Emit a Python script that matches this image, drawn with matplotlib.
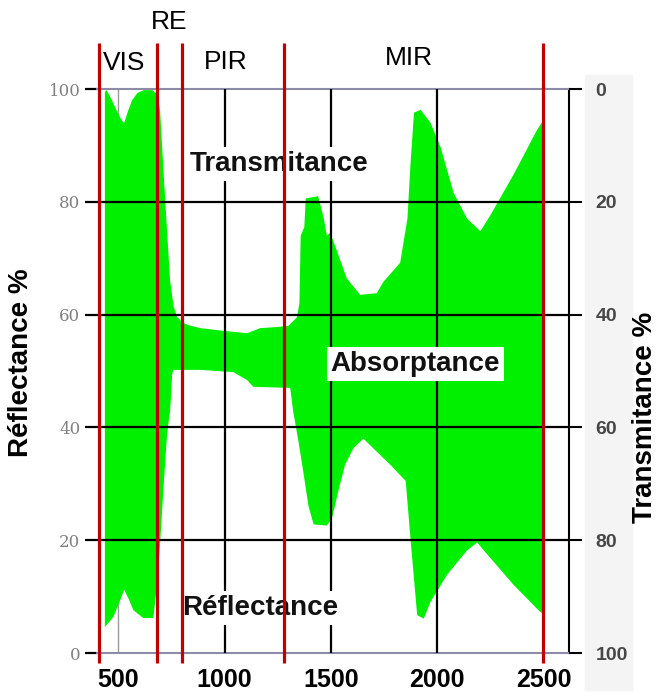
import matplotlib
matplotlib.use("Agg")
import matplotlib.pyplot as plt
import matplotlib.transforms as mtransforms
from matplotlib.patches import Rectangle

# Upper boundary of the absorbed band (100 - transmittance), in %
top_wavelength = [437, 445, 470, 495, 515, 528, 545, 565, 590, 620, 660, 685, 697,
                  712, 730, 744, 760, 777, 800, 824, 886, 1000, 1106, 1168, 1250,
                  1300, 1340, 1352, 1358, 1375, 1382, 1440, 1466, 1481, 1497, 1512,
                  1575, 1638, 1716, 1747, 1826, 1860, 1875, 1891, 1922, 1969, 2016,
                  2078, 2141, 2203, 2250, 2359, 2469, 2500]
top_value = [99.5, 99.8, 98, 96, 94.5, 94, 96, 98, 99.3, 99.8, 99.8, 99, 96,
             86, 74.5, 66, 61.5, 59.6, 58.7, 58.2, 57.6, 57.1, 56.7, 57.6, 57.8,
             58, 59.5, 62, 74, 75.5, 80.6, 81, 77.2, 74, 74.5, 73,
             66.4, 63.5, 63.8, 65.8, 69.2, 77, 87, 95.8, 96.3, 94, 89.7,
             81.5, 77, 74.8, 77.6, 84.8, 92.7, 94.5]

# Reflectance curve (lower boundary), in %
bottom_wavelength = [437, 477, 505, 528, 550, 571, 618, 665, 683, 697, 712, 730,
                     744, 754, 760, 886, 1041, 1106, 1135, 1309, 1322, 1348, 1372,
                     1395, 1419, 1481, 1505, 1536, 1567, 1606, 1653, 1716, 1779,
                     1852, 1875, 1906, 1937, 1969, 2047, 2141, 2188, 2219, 2359,
                     2484, 2500]
bottom_value = [4.6, 6.4, 9, 11.2, 9.5, 7.6, 6.2, 6.2, 12.4, 19.5, 28.9, 39,
                43, 49.6, 50.2, 50.2, 49.8, 48.4, 47.2, 47, 43, 37.4, 31.7,
                26, 22.8, 22.6, 23.8, 28.9, 33.4, 36.3, 38, 35.7, 33.4,
                30.5, 20, 6.7, 6.1, 9.1, 13.9, 18.2, 19.6, 18.2, 12.1,
                7.3, 7]

# Spectral domain limits (nm) and their names
region_bounds = [408, 680, 800, 1280, 2500]
region_names = ["VIS", "RE", "PIR", "MIR"]
region_label_x = [527, 739, 1006, 1866]
region_label_y = [1.046, 1.119, 1.048, 1.055]

x_ticks = [500, 1000, 1500, 2000, 2500]
left_ticks = [0, 20, 40, 60, 80, 100]
right_ticks = [0, 20, 40, 60, 80, 100]

GREEN = "#00f000"
RED = "#c00000"
EDGE = "#8c8ca8"

fig = plt.figure(figsize=(6.58, 6.92), dpi=100)
fig.patches.append(Rectangle((585 / 658, 1 - 690 / 692), 47 / 658, 615 / 692,
                             transform=fig.transFigure, color="#f4f4f4", zorder=-5))

ax = fig.add_axes([97 / 658, 1 - 653 / 692, 472 / 658, 564 / 692])
ax.set_facecolor("none")
ax.set_xlim(400, 2620)
ax.set_ylim(0, 100)

# band between reflectance and 100 - transmittance
poly_x = top_wavelength + bottom_wavelength[::-1]
poly_y = top_value + bottom_value[::-1]
ax.fill(poly_x, poly_y, color=GREEN, lw=0, zorder=2)

# grid
ax.axvline(500, color="#9a9a9a", lw=1.0, zorder=1)
for xv in [1000, 1500, 2000]:
    ax.axvline(xv, color="black", lw=1.6, zorder=3)
for yv in [20, 40, 60, 80]:
    ax.axhline(yv, color="black", lw=1.6, zorder=3)

# spines
ax.spines["left"].set_visible(False)
ax.spines["top"].set_color(EDGE)
ax.spines["bottom"].set_color(EDGE)
ax.spines["top"].set_linewidth(1.5)
ax.spines["bottom"].set_linewidth(1.5)
ax.spines["right"].set_color("black")
ax.spines["right"].set_linewidth(1.5)

ax.set_xticks(x_ticks)
ax.set_xticklabels([str(v) for v in x_ticks], fontfamily="Liberation Sans",
                   fontweight="bold", fontsize=18)
ax.tick_params(axis="x", length=0, pad=11)

ax.set_yticks(left_ticks)
ax.set_yticklabels([str(v) for v in left_ticks], fontfamily="DejaVu Serif",
                   fontsize=12, color="#808080")
ax.tick_params(axis="y", direction="out", length=9, width=1.6, pad=3, color="black")
for t, v in zip(ax.yaxis.get_major_ticks(), left_ticks):
    if v in (0, 100):
        t.tick1line.set_color(EDGE)
    elif v == 20:
        t.tick1line.set_color("#777777")

# transmittance scale on the right
ax2 = ax.twinx()
ax2.set_ylim(100, 0)
ax2.set_yticks(right_ticks)
ax2.set_yticklabels([str(v) for v in right_ticks], fontfamily="Liberation Sans",
                    fontweight="bold", fontsize=14, color="#474747")
ax2.tick_params(axis="y", direction="out", length=9, width=1.5, pad=10, color="black")
for t, v in zip(ax2.yaxis.get_major_ticks(), right_ticks):
    if v in (0, 100):
        t.tick2line.set_color(EDGE)
    elif v == 80:
        t.tick2line.set_color("#777777")
for side in ["left", "top", "bottom", "right"]:
    ax2.spines[side].set_visible(False)

# axis titles
ax.text(-0.161, 0.514, "Réflectance %", transform=ax.transAxes, rotation=90,
        ha="center", va="center", fontfamily="Liberation Sans",
        fontweight="bold", fontsize=20)
ax.text(1.161, 0.417, "Transmitance %", transform=ax.transAxes, rotation=90,
        ha="center", va="center", fontfamily="Liberation Sans",
        fontweight="bold", fontsize=20)

# names inside the chart
box = dict(facecolor="white", edgecolor="none", pad=3)
ax.text(1255, 86.7, "Transmitance", ha="center", va="center", fontsize=20,
        fontweight="bold", fontfamily="Liberation Sans", color="#111111",
        bbox=box, zorder=4)
ax.text(1898, 51.2, "Absorptance", ha="center", va="center", fontsize=20,
        fontweight="bold", fontfamily="Liberation Sans", color="#111111",
        bbox=box, zorder=4)
ax.text(1166, 8.0, "Réflectance", ha="center", va="center", fontsize=20,
        fontweight="bold", fontfamily="Liberation Sans", color="#111111",
        bbox=box, zorder=4)

# spectral domain separators and names
blend = mtransforms.blended_transform_factory(ax.transData, ax.transAxes)
for xb in region_bounds:
    ax.plot([xb, xb], [-0.0177, 1.0816], color=RED, lw=2.3, transform=blend,
            clip_on=False, zorder=6, solid_capstyle="butt")
for name, xl, yl in zip(region_names, region_label_x, region_label_y):
    ax.text(xl, yl, name, transform=blend, ha="center", va="center",
            fontsize=19, fontfamily="Liberation Sans", color="black")

fig.savefig("out.png", dpi=100)
